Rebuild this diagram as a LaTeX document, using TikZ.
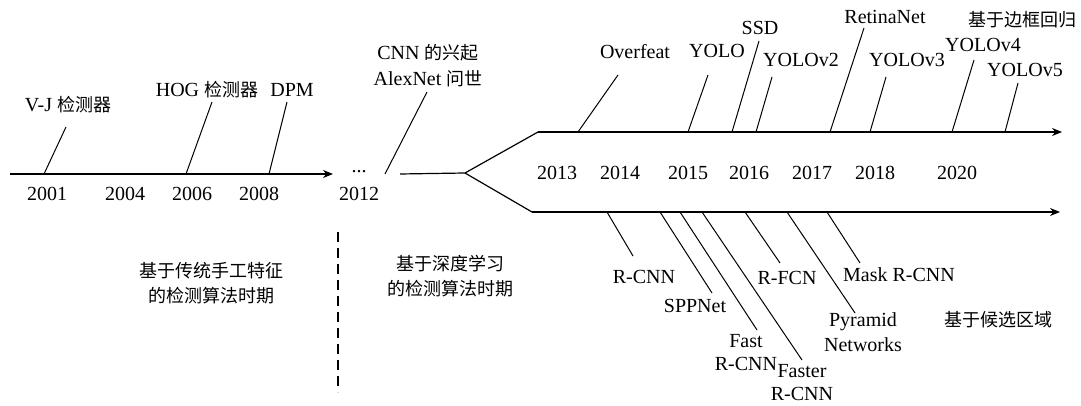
\documentclass[tikz,border=0pt]{standalone}
\usepackage{fontspec}
\setmainfont{Liberation Serif}
\newfontfamily\cjk[Scale=0.9]{Noto Sans CJK SC}
\usetikzlibrary{arrows.meta}

\begin{document}
\begin{tikzpicture}[x=0.5pt, y=-0.5pt,
every edge/.style = {draw=black, line width=0.5pt},
 axis/.style = {draw=black, line width=0.6pt, -{Stealth[length=5pt,width=4pt]}},
 year/.style = {inner sep=0pt},
 lbl/.style = {inner sep=0pt, align=center, font=\fontsize{10}{11.5}\selectfont},
 era/.style = {inner sep=0pt, align=center, font=\cjk\fontsize{10}{12.8}\selectfont}
                    ]
\useasboundingbox (0,0) rectangle (1081,406);
% time axes
\coordinate(a0) at (10,174);
\coordinate(a1) at (333,174);
\coordinate(b0) at (400,174);
\coordinate(br) at (465,173);
\coordinate(u0) at (538,132);
\coordinate(u1) at (1062,132);
\coordinate(l0) at (532,212);
\coordinate(l1) at (1060,212);
\draw[axis] (a0) -- (a1);
\draw[line width=0.6pt] (b0) -- (br) -- (u0);
\draw[line width=0.6pt] (br) -- (l0);
\draw[axis] (u0) -- (u1);
\draw[axis] (l0) -- (l1);
%
\node(y2001) [year] at (47,194) {2001};
\node(y2004) [year] at (125,194) {2004};
\node(y2006) [year] at (192,194) {2006};
\node(y2008) [year] at (259,194) {2008};
\node(dots)  [year] at (359,172) {...};
\node(y2012) [year] at (359,194) {2012};
\node(y2013) [year] at (557,173) {2013};
\node(y2014) [year] at (620,173) {2014};
\node(y2015) [year] at (688,173) {2015};
\node(y2016) [year] at (749,173) {2016};
\node(y2017) [year] at (812,173) {2017};
\node(y2018) [year] at (875,173) {2018};
\node(y2020) [year] at (957,173) {2020};
% traditional detectors
\node(vj)  [lbl] at (68,105) {V-J {\cjk 检测器}};
\node(hog) [lbl] at (207,90) {HOG {\cjk 检测器}};
\node(dpm) [lbl] at (292,90) {DPM};
\node(cnn) [lbl, font=\fontsize{10}{13}\selectfont] at (428,66) {CNN {\cjk 的兴起}\\AlexNet {\cjk 问世}};
% one-stage
\node(overfeat) [lbl] at (635,52) {Overfeat};
\node(yolo)     [lbl] at (717,51) {YOLO};
\node(ssd)      [lbl] at (760,28) {SSD};
\node(yolov2)   [lbl] at (801,60) {YOLOv2};
\node(retina)   [lbl] at (885,17) {RetinaNet};
\node(yolov3)   [lbl] at (907,60) {YOLOv3};
\node(yolov4)   [lbl] at (983,45) {YOLOv4};
\node(yolov5)   [lbl] at (1025,70) {YOLOv5};
\node(bbox)     [era] at (1022,20) {基于边框回归};
% two-stage
\node(rcnn)    [lbl] at (644,277) {R-CNN};
\node(sppnet)  [lbl] at (695,306) {SPPNet};
\node(fast)    [lbl] at (746,353) {Fast\\R-CNN};
\node(faster)  [lbl] at (802,383) {Faster\\R-CNN};
\node(rfcn)    [lbl] at (787,278) {R-FCN};
\node(pyramid) [lbl, font=\fontsize{10}{12.5}\selectfont] at (863,332) {Pyramid\\Networks};
\node(mask)    [lbl] at (899,275) {Mask R-CNN};
\node(region)  [era] at (998,320) {基于候选区域};
% periods
\node(era1) [era] at (211,283) {基于传统手工特征\\的检测算法时期};
\node(era2) [era] at (450,276) {基于深度学习\\的检测算法时期};
\coordinate(d0) at (338,232);
\coordinate(d1) at (338,392);
\draw[dashed, line width=0.6pt, dash pattern=on 5pt off 3pt] (d0) -- (d1);
%
\coordinate(t-vj) at (44,174);        \coordinate(e-vj) at (66,127);
\coordinate(t-hog) at (186,174);      \coordinate(e-hog) at (212,102);
\coordinate(t-dpm) at (269,174);      \coordinate(e-dpm) at (287,102);
\coordinate(t-cnn) at (385,174);      \coordinate(e-cnn) at (427,92);
\coordinate(t-overfeat) at (578,132); \coordinate(e-overfeat) at (618,75);
\coordinate(t-yolo) at (688,132);     \coordinate(e-yolo) at (708,75);
\coordinate(t-ssd) at (732,132);      \coordinate(e-ssd) at (759,41);
\coordinate(t-yolov2) at (756,132);   \coordinate(e-yolov2) at (772,77);
\coordinate(t-retina) at (830,132);   \coordinate(e-retina) at (864,28);
\coordinate(t-yolov3) at (870,132);   \coordinate(e-yolov3) at (886,77);
\coordinate(t-yolov4) at (952,132);   \coordinate(e-yolov4) at (974,60);
\coordinate(t-yolov5) at (1005,132);  \coordinate(e-yolov5) at (1018,83);
\coordinate(t-rcnn) at (607,212);     \coordinate(e-rcnn) at (633,256);
\coordinate(t-sppnet) at (660,212);   \coordinate(e-sppnet) at (712,293);
\coordinate(t-fast) at (680,212);     \coordinate(e-fast) at (757,330);
\coordinate(t-faster) at (702,212);   \coordinate(e-faster) at (802,360);
\coordinate(t-rfcn) at (745,212);     \coordinate(e-rfcn) at (780,263);
\coordinate(t-pyramid) at (787,212);  \coordinate(e-pyramid) at (855,313);
\coordinate(t-mask) at (827,212);     \coordinate(e-mask) at (860,263);
%
\path   (t-vj)  edge (e-vj);
\path   (t-hog)  edge (e-hog);
\path   (t-dpm)  edge (e-dpm);
\path   (t-cnn)  edge (e-cnn);
\path   (t-overfeat)  edge (e-overfeat);
\path   (t-yolo)  edge (e-yolo);
\path   (t-ssd)  edge (e-ssd);
\path   (t-yolov2)  edge (e-yolov2);
\path   (t-retina)  edge (e-retina);
\path   (t-yolov3)  edge (e-yolov3);
\path   (t-yolov4)  edge (e-yolov4);
\path   (t-yolov5)  edge (e-yolov5);
\path   (t-rcnn)  edge (e-rcnn);
\path   (t-sppnet)  edge (e-sppnet);
\path   (t-fast)  edge (e-fast);
\path   (t-faster)  edge (e-faster);
\path   (t-rfcn)  edge (e-rfcn);
\path   (t-pyramid)  edge (e-pyramid);
\path   (t-mask)  edge (e-mask);
\end{tikzpicture}
\end{document}
